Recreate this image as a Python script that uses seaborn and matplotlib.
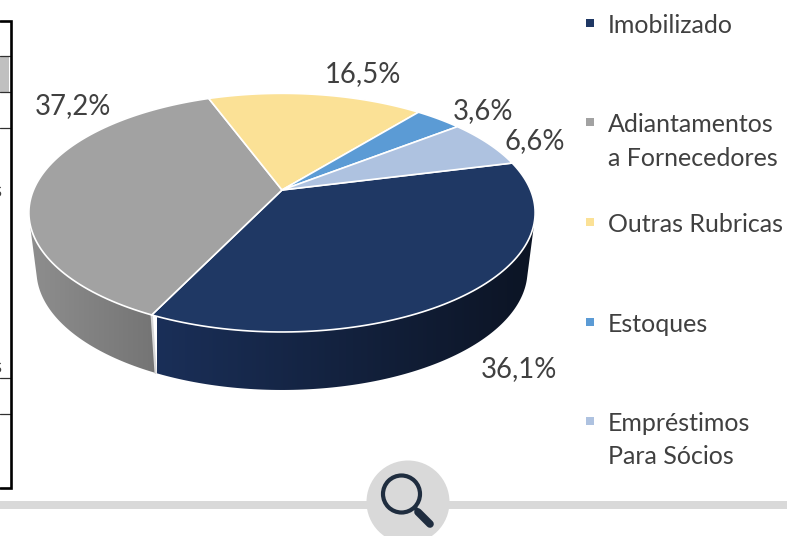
import numpy as np
import matplotlib
matplotlib.use('Agg')
import matplotlib.pyplot as plt
from matplotlib.patches import Polygon, Circle, Rectangle
import seaborn as sns

# Chart data
categories = ['Imobilizado', 'Adiantamentos\na Fornecedores', 'Outras Rubricas', 'Estoques', 'Empréstimos\nPara Sócios']
values = [36.1, 37.2, 16.5, 3.6, 6.6]
colors = ['#1f3864', '#a2a2a2', '#fbe196', '#5b9bd5', '#aec2e0']
value_labels = ['36,1%', '37,2%', '16,5%', '3,6%', '6,6%']
label_pos = [(519, 369), (73, 106), (363, 74), (483, 111), (535, 141)]
legend_y = [23, 122, 222, 322, 421]

# Pie geometry in pixels, perspective projection of a flat disc
CX, CY = 282, 190
RX, RY = 248.5, 115
PERSP = 0.19
DEPTH = 58
START = 14.2


def project(t, bottom=False):
    t = np.radians(t)
    d = 1 + PERSP * np.sin(t)
    x = RX * np.cos(t) / d
    y = -RY * np.sin(t) / d
    if bottom:
        return CX + 0.97 * x, CY + y + DEPTH
    return CX + x, CY + y


def rim(ax, t0, t1, c_left, c_right, x0, x1):
    ts = np.linspace(t0, t1, 120)
    xa, ya = project(ts)
    xb, yb = project(ts[::-1], bottom=True)
    poly = Polygon(np.c_[np.r_[xa, xb], np.r_[ya, yb]], closed=True, fc='none', ec='none')
    ax.add_patch(poly)
    cmap = sns.blend_palette([c_left, c_right], as_cmap=True)
    im = ax.imshow(np.linspace(0, 1, 256)[None, :], cmap=cmap, aspect='auto',
                   extent=(x0, x1, 400, 150), zorder=2)
    im.set_clip_path(poly)


def main():
    sns.set_theme(style="white")
    plt.rcParams['font.family'] = ['Lato', 'DejaVu Sans']

    fig = plt.figure(figsize=(7.87, 5.36), dpi=100)
    ax = fig.add_axes([0, 0, 1, 1])

    # Side of the pie (only the front slices show)
    angles = START - np.cumsum([0] + values) * 3.6
    rim(ax, -165, angles[1], '#8e8e8e', '#747474', 30, 158)
    rim(ax, angles[1], -15, '#1a2f58', '#0c1424', 157, 535)
    xa, ya = project(angles[1])
    xb, yb = project(angles[1], bottom=True)
    ax.plot([xa, xb], [ya, yb], color='#d8d8d8', lw=1.6, zorder=3)

    # Top face
    for i, v in enumerate(values):
        ts = np.linspace(angles[i], angles[i + 1], 100)
        x, y = project(ts)
        ax.fill(np.r_[CX, x], np.r_[CY, y], fc=colors[i], ec='white', lw=1.2,
                joinstyle='round', zorder=4)

    # Value labels
    for lab, (x, y) in zip(value_labels, label_pos):
        ax.text(x, y, lab, fontsize=19.8, color='#404040', ha='center', va='center', zorder=6)

    # Legend
    for cat, c, y in zip(categories, colors, legend_y):
        ax.add_patch(Rectangle((586, y - 4), 8, 8, fc=c, ec='none'))
        for j, line in enumerate(cat.split('\n')):
            ax.text(608, y + 10 + j * 33.5, line, fontsize=18, color='#404040',
                    ha='left', va='baseline', zorder=6)

    # Edge of the neighbouring table
    ax.add_patch(Rectangle((0, 57), 9, 35, fc='#c0c0c0', ec='none'))
    for y in [56, 92, 128, 378, 414]:
        ax.plot([0, 10], [y, y], color='#303030', lw=0.9)
    ax.plot([0, 10.5, 10.5, 0], [20.5, 20.5, 487.5, 487.5], color='black', lw=1.9, solid_joinstyle='miter')
    for y in [191, 367]:
        ax.text(-7.5, y, 's', fontsize=15, color='#404040', ha='left', va='center')

    # Bottom bar with the magnifier icon
    ax.add_patch(Rectangle((0, 501), 787, 8, fc='#d9d9d9', ec='none'))
    ax.add_patch(Circle((408, 502), 41.5, fc='#d9d9d9', ec='none'))
    ax.add_patch(Circle((401.5, 494), 18.5, fc='none', ec='#1f2d3f', lw=3))
    ax.plot([414, 419], [507, 512], color='#1f2d3f', lw=3, solid_capstyle='butt')
    ax.plot([418, 430], [512, 524], color='#1f2d3f', lw=5.5, solid_capstyle='round')

    ax.set_xlim(0, 787)
    ax.set_ylim(536, 0)
    ax.axis('off')
    fig.savefig('out.png', dpi=100)
    plt.close(fig)


if __name__ == '__main__':
    main()
